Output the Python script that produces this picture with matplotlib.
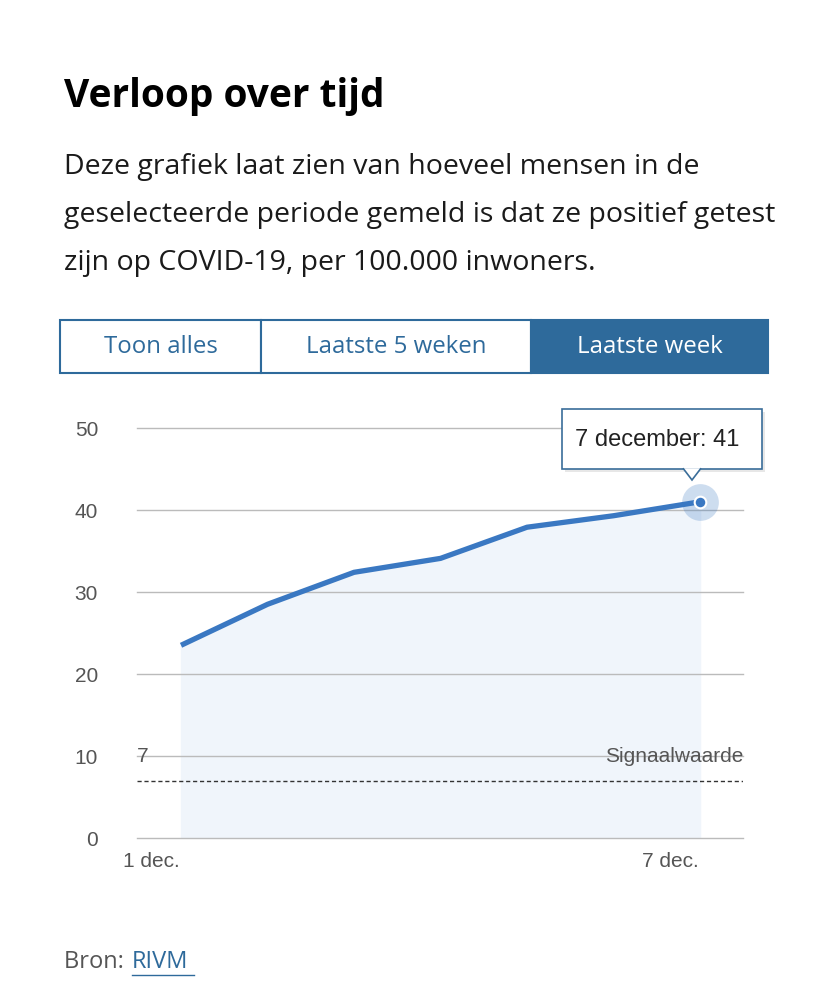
import matplotlib
matplotlib.use("Agg")
import matplotlib.pyplot as plt
from matplotlib.patches import Rectangle, Polygon
from matplotlib.transforms import offset_copy

days = [0, 1, 2, 3, 4, 5, 6]
values = [23.5, 28.5, 32.4, 34.1, 37.9, 39.3, 41]
xtick_pos = [0, 6]
xtick_labels = ["1 dec.", "7 dec."]
yticks = [0, 10, 20, 30, 40, 50]
signal = 7

W, H = 828, 996
fig = plt.figure(figsize=(W/100, H/100), dpi=100)
fig.patch.set_facecolor("white")

def fx(px): return px / W
def fy(py): return 1 - py / H

fig.text(fx(64), fy(97), "Verloop over tijd", fontsize=28, fontweight="bold",
         family="Open Sans", va="center", color="#000")
for i, line in enumerate(["Deze grafiek laat zien van hoeveel mensen in de",
                          "geselecteerde periode gemeld is dat ze positief getest",
                          "zijn op COVID-19, per 100.000 inwoners."]):
    fig.text(fx(64), fy(167 + i * 48), line, fontsize=20.5, family="Open Sans",
             va="center", color="#1a1a1a")

blue = "#2e6a9b"
btns = [(60, 261, "Toon alles"), (261, 531, "Laatste 5 weken"), (531, 768, "Laatste week")]
for i, (a, b, t) in enumerate(btns):
    sel = i == 2
    fig.patches.append(Rectangle((fx(a), fy(373)), fx(b - a), (373 - 320) / H,
                                 transform=fig.transFigure, facecolor=blue if sel else "white",
                                 edgecolor=blue, linewidth=1.5))
    fig.text(fx((a + b) / 2), fy(347), t, ha="center", va="center", fontsize=17.3,
             family="Open Sans", color="white" if sel else blue)

ax = fig.add_axes([fx(137), fy(838), fx(743 - 137), (838 - 428) / H])
ax.set_xlim(-0.509, 6.497)
ax.set_ylim(0, 50)
ax.patch.set_visible(False)
for s in ax.spines.values():
    s.set_visible(False)
ax.set_yticks(yticks)
ax.set_yticklabels([str(v) for v in yticks], family="Liberation Sans", fontsize=15, color="#555")
ax.tick_params(axis="y", length=0, pad=28)
ax.set_xticks(xtick_pos)
ax.set_xticklabels(xtick_labels, family="Liberation Sans", fontsize=15, color="#555")
ax.tick_params(axis="x", length=0, pad=10)
for lab in ax.get_xticklabels():
    lab.set_transform(offset_copy(lab.get_transform(), fig=fig, x=-30, units="dots"))
for y in yticks:
    ax.axhline(y, color="#bbbbbb", linewidth=1, zorder=2, clip_on=False)

ax.fill_between(days, values, 0, color="#f0f5fb", zorder=1)
ax.plot(days, values, color="#3a78c2", linewidth=3.8, zorder=3, solid_capstyle="butt")
ax.axhline(signal, color="#333", linestyle=(0, (3, 2)), linewidth=1, zorder=2)
ax.text(-0.509, 10, str(signal), fontsize=15, family="Liberation Sans", color="#555", va="center")
ax.text(6.497, 10, "Signaalwaarde", fontsize=15, family="Liberation Sans",
        color="#555", ha="right", va="center")
ax.scatter([days[-1]], [values[-1]], s=700, color="#3a78c2", alpha=0.25, zorder=4, linewidths=0)
ax.scatter([days[-1]], [values[-1]], s=70, color="#3a78c2", edgecolor="white", linewidth=1.5, zorder=5)

tx0, tx1, ty0, ty1 = 562, 762, 409, 469
fig.patches.append(Rectangle((fx(tx0 + 3), fy(ty1 + 3)), fx(tx1 - tx0), (ty1 - ty0) / H,
                             transform=fig.transFigure, facecolor="#00000018",
                             edgecolor="none", zorder=9))
fig.patches.append(Rectangle((fx(tx0), fy(ty1)), fx(tx1 - tx0), (ty1 - ty0) / H,
                             transform=fig.transFigure, facecolor="white",
                             edgecolor="#3a6d99", linewidth=1.2, zorder=10))
fig.patches.append(Polygon([(fx(683), fy(ty1 - 0.8)), (fx(692), fy(480)), (fx(701), fy(ty1 - 0.8))],
                           closed=False, transform=fig.transFigure, facecolor="white",
                           edgecolor="#3a6d99", linewidth=1.2, zorder=11))
fig.text(fx(657), fy(440), f"7 december: {values[-1]:g}", ha="center", va="center",
         fontsize=17, family="Liberation Sans", color="#222", zorder=12)

fig.text(fx(64), fy(962), "Bron: ", fontsize=17, family="Open Sans", va="center", color="#555")
fig.text(fx(132), fy(962), "RIVM", fontsize=17, family="Open Sans", va="center", color="#2e6a9b")
fig.lines.append(plt.Line2D([fx(132), fx(194)], [fy(975), fy(975)], transform=fig.transFigure,
                            color="#2e6a9b", linewidth=1))

fig.savefig("out.png", dpi=100)
